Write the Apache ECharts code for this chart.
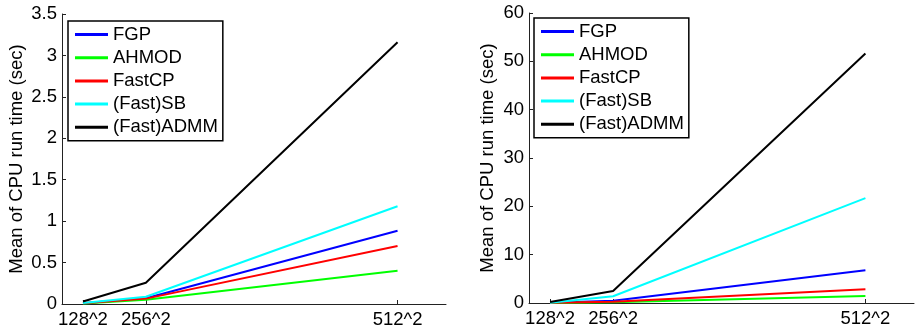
<!DOCTYPE html>
<html>
<head>
<meta charset="utf-8">
<script src="https://cdn.jsdelivr.net/npm/echarts@6/dist/echarts.min.js"></script>
<style>
  html, body { margin: 0; padding: 0; background: #fff; }
  #chart { width: 915px; height: 333px; }
</style>
</head>
<body>
<div id="chart"></div>
<script>
// image sizes (pixels) and their tick labels
const sizes = [16384, 65536, 262144];
const sizeLabels = ["128^2", "256^2", "512^2"];
const methods = ["FGP", "AHMOD", "FastCP", "(Fast)SB", "(Fast)ADMM"];
const colors = ["#0000ff", "#00ff00", "#ff0000", "#00ffff", "#000000"];

// left panel, mean CPU time (sec)
const fgpLeft = [0.01, 0.07, 0.885];
const ahmodLeft = [0.005, 0.05, 0.40];
const fastcpLeft = [0.008, 0.065, 0.70];
const sbLeft = [0.012, 0.088, 1.18];
const admmLeft = [0.03, 0.257, 3.16];

// right panel, mean CPU time (sec)
const fgpRight = [0.05, 0.45, 6.8];
const ahmodRight = [0.02, 0.15, 1.45];
const fastcpRight = [0.03, 0.25, 2.85];
const sbRight = [0.06, 1.4, 21.7];
const admmRight = [0.2, 2.5, 51.6];

const leftSeries = [fgpLeft, ahmodLeft, fastcpLeft, sbLeft, admmLeft];
const rightSeries = [fgpRight, ahmodRight, fastcpRight, sbRight, admmRight];

const FONT = "'Liberation Sans', Arial, sans-serif";
const FS = 18.5;
const axisColor = "#222";

const chart = echarts.init(document.getElementById("chart"), null, { renderer: "canvas" });

function xAxisFor(gridIndex) {
  return {
    type: "value",
    gridIndex: gridIndex,
    min: 0,
    max: 300000,
    splitLine: { show: false },
    axisLine: { lineStyle: { color: axisColor, width: 1 } },
    axisTick: { inside: true, length: 4, customValues: sizes, lineStyle: { color: axisColor } },
    axisLabel: {
      customValues: sizes,
      margin: 6,
      color: "#000",
      fontSize: FS,
      fontFamily: FONT,
      formatter: (v) => sizeLabels[sizes.indexOf(v)] || "",
    },
  };
}

function yAxisFor(gridIndex, max, interval, nameGap) {
  return {
    type: "value",
    gridIndex: gridIndex,
    min: 0,
    max: max,
    interval: interval,
    name: "Mean of CPU run time (sec)",
    nameLocation: "middle",
    nameGap: nameGap,
    nameTextStyle: { color: "#000", fontSize: FS, fontFamily: FONT },
    splitLine: { show: false },
    axisLine: { show: true, lineStyle: { color: axisColor, width: 1 } },
    axisTick: { show: true, inside: true, length: 4, lineStyle: { color: axisColor } },
    axisLabel: { margin: 5, color: "#000", fontSize: FS, fontFamily: FONT },
  };
}

function legendFor(left, top) {
  return {
    data: methods,
    orient: "vertical",
    left: left,
    top: top,
    icon: "rect",
    itemWidth: 33,
    itemHeight: 3,
    itemGap: 4.2,
    padding: [4, 5, 4, 7],
    borderColor: "#000",
    borderWidth: 1.5,
    backgroundColor: "#fff",
    selectedMode: false,
    textStyle: { color: "#000", fontSize: FS, fontFamily: FONT },
  };
}

function makeSeries(data, gridIndex, suffix) {
  return data.map((vals, i) => ({
    id: methods[i] + suffix,
    name: methods[i],
    type: "line",
    xAxisIndex: gridIndex,
    yAxisIndex: gridIndex,
    symbol: "none",
    lineStyle: { width: 2, color: colors[i] },
    itemStyle: { color: colors[i] },
    data: vals.map((v, k) => [sizes[k], v]),
  }));
}

const option = {
  backgroundColor: "#fff",
  animation: false,
  grid: [
    { left: 62, top: 14, width: 384, height: 290 },
    { left: 529, top: 13, width: 385, height: 290 },
  ],
  xAxis: [xAxisFor(0), xAxisFor(1)],
  yAxis: [yAxisFor(0, 3.5, 0.5, 36), yAxisFor(1, 60, 10, 32)],
  legend: [legendFor(68, 21), legendFor(534, 18)],
  series: makeSeries(leftSeries, 0, "-l").concat(makeSeries(rightSeries, 1, "-r")),
};

chart.setOption(option);

window.addEventListener("resize", () => chart.resize());
</script>
</body>
</html>
